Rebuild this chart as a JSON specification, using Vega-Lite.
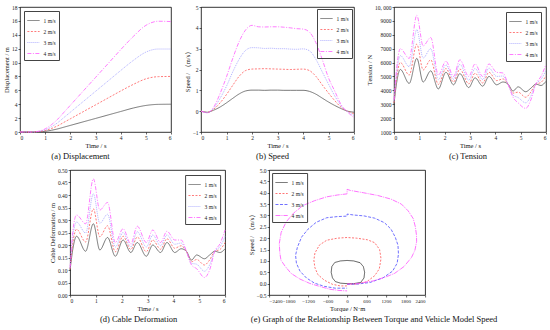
{
  "$schema": "https://vega.github.io/schema/vega-lite/v6.json",
  "padding": {"left": 3, "top": 4, "right": 3, "bottom": 2},
  "background": "white",
  "datasets": {
    "disp": [
      {"t": 0, "1 m/s": 0, "2 m/s": 0, "3 m/s": 0, "4 m/s": 0},
      {"t": 0.5, "1 m/s": 0, "2 m/s": 0, "3 m/s": 0, "4 m/s": 0},
      {"t": 0.75, "1 m/s": 0.03, "2 m/s": 0.06, "3 m/s": 0.09, "4 m/s": 0.12},
      {"t": 1, "1 m/s": 0.1, "2 m/s": 0.2, "3 m/s": 0.3, "4 m/s": 0.45},
      {"t": 1.25, "1 m/s": 0.25, "2 m/s": 0.5, "3 m/s": 0.75, "4 m/s": 1.05},
      {"t": 1.5, "1 m/s": 0.45, "2 m/s": 0.9, "3 m/s": 1.35, "4 m/s": 1.85},
      {"t": 1.75, "1 m/s": 0.7, "2 m/s": 1.4, "3 m/s": 2.1, "4 m/s": 2.85},
      {"t": 2, "1 m/s": 0.95, "2 m/s": 1.9, "3 m/s": 2.85, "4 m/s": 3.85},
      {"t": 2.5, "1 m/s": 1.45, "2 m/s": 2.9, "3 m/s": 4.35, "4 m/s": 5.85},
      {"t": 3, "1 m/s": 1.95, "2 m/s": 3.9, "3 m/s": 5.85, "4 m/s": 7.85},
      {"t": 3.5, "1 m/s": 2.45, "2 m/s": 4.9, "3 m/s": 7.35, "4 m/s": 9.85},
      {"t": 4, "1 m/s": 2.95, "2 m/s": 5.9, "3 m/s": 8.85, "4 m/s": 11.85},
      {"t": 4.5, "1 m/s": 3.45, "2 m/s": 6.85, "3 m/s": 10.3, "4 m/s": 13.75},
      {"t": 5, "1 m/s": 3.82, "2 m/s": 7.65, "3 m/s": 11.5, "4 m/s": 15.35},
      {"t": 5.5, "1 m/s": 3.98, "2 m/s": 7.97, "3 m/s": 11.95, "4 m/s": 15.95},
      {"t": 6, "1 m/s": 4.0, "2 m/s": 8.0, "3 m/s": 11.95, "4 m/s": 15.9}
    ],
    "speed": [
      {"t": 0, "1 m/s": 0, "2 m/s": 0, "3 m/s": 0, "4 m/s": 0},
      {"t": 0.25, "1 m/s": -0.05, "2 m/s": -0.06, "3 m/s": -0.07, "4 m/s": -0.08},
      {"t": 0.5, "1 m/s": 0.05, "2 m/s": 0.1, "3 m/s": 0.15, "4 m/s": 0.2},
      {"t": 0.75, "1 m/s": 0.2, "2 m/s": 0.4, "3 m/s": 0.62, "4 m/s": 0.85},
      {"t": 1, "1 m/s": 0.4, "2 m/s": 0.8, "3 m/s": 1.2, "4 m/s": 1.65},
      {"t": 1.25, "1 m/s": 0.62, "2 m/s": 1.25, "3 m/s": 1.9, "4 m/s": 2.55},
      {"t": 1.5, "1 m/s": 0.83, "2 m/s": 1.68, "3 m/s": 2.5, "4 m/s": 3.35},
      {"t": 1.75, "1 m/s": 0.97, "2 m/s": 1.95, "3 m/s": 2.92, "4 m/s": 3.9},
      {"t": 2, "1 m/s": 1.01, "2 m/s": 2.02, "3 m/s": 3.05, "4 m/s": 4.12},
      {"t": 2.25, "1 m/s": 1.01, "2 m/s": 2.03, "3 m/s": 3.04, "4 m/s": 4.05},
      {"t": 2.5, "1 m/s": 1.0, "2 m/s": 2.04, "3 m/s": 3.01, "4 m/s": 4.04},
      {"t": 2.75, "1 m/s": 1.01, "2 m/s": 2.03, "3 m/s": 3.02, "4 m/s": 4.05},
      {"t": 3, "1 m/s": 1.01, "2 m/s": 2.02, "3 m/s": 3.0, "4 m/s": 4.05},
      {"t": 3.25, "1 m/s": 1.0, "2 m/s": 2.01, "3 m/s": 3.0, "4 m/s": 4.03},
      {"t": 3.5, "1 m/s": 1.0, "2 m/s": 2.0, "3 m/s": 2.98, "4 m/s": 4.0},
      {"t": 3.75, "1 m/s": 1.0, "2 m/s": 2.01, "3 m/s": 2.97, "4 m/s": 3.96},
      {"t": 4, "1 m/s": 1.0, "2 m/s": 2.02, "3 m/s": 2.99, "4 m/s": 3.94},
      {"t": 4.25, "1 m/s": 0.95, "2 m/s": 1.95, "3 m/s": 2.9, "4 m/s": 3.8},
      {"t": 4.5, "1 m/s": 0.82, "2 m/s": 1.68, "3 m/s": 2.5, "4 m/s": 3.3},
      {"t": 4.75, "1 m/s": 0.63, "2 m/s": 1.27, "3 m/s": 1.9, "4 m/s": 2.5},
      {"t": 5, "1 m/s": 0.44, "2 m/s": 0.87, "3 m/s": 1.3, "4 m/s": 1.6},
      {"t": 5.25, "1 m/s": 0.27, "2 m/s": 0.5, "3 m/s": 0.72, "4 m/s": 0.95},
      {"t": 5.5, "1 m/s": 0.12, "2 m/s": 0.18, "3 m/s": 0.25, "4 m/s": 0.3},
      {"t": 5.75, "1 m/s": 0.0, "2 m/s": 0.0, "3 m/s": -0.02, "4 m/s": -0.05},
      {"t": 6, "1 m/s": -0.05, "2 m/s": -0.12, "3 m/s": -0.2, "4 m/s": -0.3}
    ],
    "tension": [
      {"t": 0, "1 m/s": 3000, "2 m/s": 3100, "3 m/s": 3200, "4 m/s": 3300},
      {"t": 0.1, "1 m/s": 4500, "2 m/s": 4830, "3 m/s": 5170, "4 m/s": 5500},
      {"t": 0.25, "1 m/s": 5500, "2 m/s": 6000, "3 m/s": 6500, "4 m/s": 7000},
      {"t": 0.6, "1 m/s": 4500, "2 m/s": 5100, "3 m/s": 5700, "4 m/s": 6300},
      {"t": 0.9, "1 m/s": 6300, "2 m/s": 7330, "3 m/s": 8370, "4 m/s": 9400},
      {"t": 1.15, "1 m/s": 4600, "2 m/s": 5470, "3 m/s": 6330, "4 m/s": 7200},
      {"t": 1.45, "1 m/s": 5400, "2 m/s": 6200, "3 m/s": 7000, "4 m/s": 7800},
      {"t": 1.75, "1 m/s": 4100, "2 m/s": 4430, "3 m/s": 4770, "4 m/s": 5100},
      {"t": 2.05, "1 m/s": 5300, "2 m/s": 5570, "3 m/s": 5830, "4 m/s": 6100},
      {"t": 2.35, "1 m/s": 4400, "2 m/s": 4600, "3 m/s": 4800, "4 m/s": 5000},
      {"t": 2.6, "1 m/s": 5200, "2 m/s": 5530, "3 m/s": 5870, "4 m/s": 6200},
      {"t": 2.95, "1 m/s": 4200, "2 m/s": 4470, "3 m/s": 4730, "4 m/s": 5000},
      {"t": 3.2, "1 m/s": 4900, "2 m/s": 5230, "3 m/s": 5570, "4 m/s": 5900},
      {"t": 3.5, "1 m/s": 4300, "2 m/s": 4530, "3 m/s": 4770, "4 m/s": 5000},
      {"t": 3.75, "1 m/s": 5000, "2 m/s": 5300, "3 m/s": 5600, "4 m/s": 5900},
      {"t": 4.05, "1 m/s": 4400, "2 m/s": 4700, "3 m/s": 5000, "4 m/s": 5300},
      {"t": 4.3, "1 m/s": 4600, "2 m/s": 4820, "3 m/s": 5030, "4 m/s": 5250},
      {"t": 4.5, "1 m/s": 4450, "2 m/s": 4450, "3 m/s": 4450, "4 m/s": 4450},
      {"t": 4.7, "1 m/s": 3950, "2 m/s": 3800, "3 m/s": 3650, "4 m/s": 3500},
      {"t": 4.9, "1 m/s": 4250, "2 m/s": 3870, "3 m/s": 3480, "4 m/s": 3100},
      {"t": 5.2, "1 m/s": 3900, "2 m/s": 3500, "3 m/s": 3100, "4 m/s": 2700},
      {"t": 5.4, "1 m/s": 4150, "2 m/s": 3870, "3 m/s": 3580, "4 m/s": 3300},
      {"t": 5.6, "1 m/s": 4450, "2 m/s": 4450, "3 m/s": 4450, "4 m/s": 4450},
      {"t": 5.8, "1 m/s": 4350, "2 m/s": 4570, "3 m/s": 4780, "4 m/s": 5000},
      {"t": 6, "1 m/s": 4650, "2 m/s": 5050, "3 m/s": 5450, "4 m/s": 5850}
    ],
    "deform": [
      {"t": 0, "1 m/s": 0.1, "2 m/s": 0.103, "3 m/s": 0.107, "4 m/s": 0.11},
      {"t": 0.1, "1 m/s": 0.18, "2 m/s": 0.203, "3 m/s": 0.227, "4 m/s": 0.25},
      {"t": 0.25, "1 m/s": 0.235, "2 m/s": 0.263, "3 m/s": 0.292, "4 m/s": 0.32},
      {"t": 0.6, "1 m/s": 0.175, "2 m/s": 0.212, "3 m/s": 0.248, "4 m/s": 0.285},
      {"t": 0.9, "1 m/s": 0.285, "2 m/s": 0.345, "3 m/s": 0.405, "4 m/s": 0.465},
      {"t": 1.15, "1 m/s": 0.18, "2 m/s": 0.233, "3 m/s": 0.287, "4 m/s": 0.34},
      {"t": 1.45, "1 m/s": 0.23, "2 m/s": 0.277, "3 m/s": 0.323, "4 m/s": 0.37},
      {"t": 1.75, "1 m/s": 0.155, "2 m/s": 0.173, "3 m/s": 0.192, "4 m/s": 0.21},
      {"t": 2.05, "1 m/s": 0.22, "2 m/s": 0.235, "3 m/s": 0.25, "4 m/s": 0.265},
      {"t": 2.35, "1 m/s": 0.17, "2 m/s": 0.182, "3 m/s": 0.193, "4 m/s": 0.205},
      {"t": 2.6, "1 m/s": 0.21, "2 m/s": 0.232, "3 m/s": 0.253, "4 m/s": 0.275},
      {"t": 2.95, "1 m/s": 0.155, "2 m/s": 0.173, "3 m/s": 0.192, "4 m/s": 0.21},
      {"t": 3.2, "1 m/s": 0.2, "2 m/s": 0.22, "3 m/s": 0.24, "4 m/s": 0.26},
      {"t": 3.5, "1 m/s": 0.17, "2 m/s": 0.183, "3 m/s": 0.197, "4 m/s": 0.21},
      {"t": 3.75, "1 m/s": 0.21, "2 m/s": 0.225, "3 m/s": 0.24, "4 m/s": 0.255},
      {"t": 4.05, "1 m/s": 0.17, "2 m/s": 0.187, "3 m/s": 0.203, "4 m/s": 0.22},
      {"t": 4.3, "1 m/s": 0.185, "2 m/s": 0.197, "3 m/s": 0.208, "4 m/s": 0.22},
      {"t": 4.5, "1 m/s": 0.175, "2 m/s": 0.175, "3 m/s": 0.175, "4 m/s": 0.175},
      {"t": 4.7, "1 m/s": 0.14, "2 m/s": 0.133, "3 m/s": 0.127, "4 m/s": 0.12},
      {"t": 4.9, "1 m/s": 0.16, "2 m/s": 0.142, "3 m/s": 0.123, "4 m/s": 0.105},
      {"t": 5.2, "1 m/s": 0.145, "2 m/s": 0.12, "3 m/s": 0.095, "4 m/s": 0.07},
      {"t": 5.4, "1 m/s": 0.16, "2 m/s": 0.14, "3 m/s": 0.12, "4 m/s": 0.1},
      {"t": 5.6, "1 m/s": 0.175, "2 m/s": 0.175, "3 m/s": 0.175, "4 m/s": 0.175},
      {"t": 5.8, "1 m/s": 0.17, "2 m/s": 0.182, "3 m/s": 0.193, "4 m/s": 0.205},
      {"t": 6, "1 m/s": 0.185, "2 m/s": 0.21, "3 m/s": 0.235, "4 m/s": 0.26}
    ],
    "loop": [
      {"s": "1 m/s", "i": 1, "x": 0, "y": 0},
      {"s": "1 m/s", "i": 2, "x": 200, "y": 0},
      {"s": "1 m/s", "i": 3, "x": 417, "y": 0.05},
      {"s": "1 m/s", "i": 4, "x": 520, "y": 0.25},
      {"s": "1 m/s", "i": 5, "x": 540, "y": 0.5},
      {"s": "1 m/s", "i": 6, "x": 500, "y": 0.75},
      {"s": "1 m/s", "i": 7, "x": 400, "y": 0.92},
      {"s": "1 m/s", "i": 8, "x": 200, "y": 1.0},
      {"s": "1 m/s", "i": 9, "x": 0, "y": 1.02},
      {"s": "1 m/s", "i": 10, "x": -200, "y": 1.0},
      {"s": "1 m/s", "i": 11, "x": -380, "y": 0.93},
      {"s": "1 m/s", "i": 12, "x": -470, "y": 0.75},
      {"s": "1 m/s", "i": 13, "x": -490, "y": 0.5},
      {"s": "1 m/s", "i": 14, "x": -450, "y": 0.25},
      {"s": "1 m/s", "i": 15, "x": -360, "y": 0.09},
      {"s": "1 m/s", "i": 16, "x": -200, "y": 0.02},
      {"s": "1 m/s", "i": 17, "x": 0, "y": 0},
      {"s": "2 m/s", "i": 1, "x": 0, "y": -0.02},
      {"s": "2 m/s", "i": 2, "x": 300, "y": -0.02},
      {"s": "2 m/s", "i": 3, "x": 600, "y": 0.08},
      {"s": "2 m/s", "i": 4, "x": 850, "y": 0.35},
      {"s": "2 m/s", "i": 5, "x": 990, "y": 0.65},
      {"s": "2 m/s", "i": 6, "x": 1043, "y": 1.1},
      {"s": "2 m/s", "i": 7, "x": 1000, "y": 1.5},
      {"s": "2 m/s", "i": 8, "x": 850, "y": 1.8},
      {"s": "2 m/s", "i": 9, "x": 626, "y": 1.93},
      {"s": "2 m/s", "i": 10, "x": 300, "y": 2.0},
      {"s": "2 m/s", "i": 11, "x": 0, "y": 2.03},
      {"s": "2 m/s", "i": 12, "x": -300, "y": 2.0},
      {"s": "2 m/s", "i": 13, "x": -626, "y": 1.91},
      {"s": "2 m/s", "i": 14, "x": -850, "y": 1.7},
      {"s": "2 m/s", "i": 15, "x": -990, "y": 1.35},
      {"s": "2 m/s", "i": 16, "x": -1023, "y": 1.03},
      {"s": "2 m/s", "i": 17, "x": -990, "y": 0.7},
      {"s": "2 m/s", "i": 18, "x": -900, "y": 0.4},
      {"s": "2 m/s", "i": 19, "x": -700, "y": 0.15},
      {"s": "2 m/s", "i": 20, "x": -450, "y": -0.03},
      {"s": "2 m/s", "i": 21, "x": -209, "y": -0.1},
      {"s": "2 m/s", "i": 22, "x": 0, "y": -0.1},
      {"s": "3 m/s", "i": 1, "x": 0, "y": -0.03},
      {"s": "3 m/s", "i": 2, "x": 313, "y": -0.02},
      {"s": "3 m/s", "i": 3, "x": 700, "y": 0.05},
      {"s": "3 m/s", "i": 4, "x": 1100, "y": 0.25},
      {"s": "3 m/s", "i": 5, "x": 1400, "y": 0.55},
      {"s": "3 m/s", "i": 6, "x": 1540, "y": 0.9},
      {"s": "3 m/s", "i": 7, "x": 1580, "y": 1.3},
      {"s": "3 m/s", "i": 8, "x": 1565, "y": 1.69},
      {"s": "3 m/s", "i": 9, "x": 1480, "y": 2.05},
      {"s": "3 m/s", "i": 10, "x": 1350, "y": 2.4},
      {"s": "3 m/s", "i": 11, "x": 1150, "y": 2.68},
      {"s": "3 m/s", "i": 12, "x": 850, "y": 2.88},
      {"s": "3 m/s", "i": 13, "x": 522, "y": 2.98},
      {"s": "3 m/s", "i": 14, "x": 200, "y": 3.02},
      {"s": "3 m/s", "i": 15, "x": 0, "y": 3.06},
      {"s": "3 m/s", "i": 16, "x": 0, "y": 2.97},
      {"s": "3 m/s", "i": 17, "x": -300, "y": 2.95},
      {"s": "3 m/s", "i": 18, "x": -626, "y": 2.9},
      {"s": "3 m/s", "i": 19, "x": -950, "y": 2.7},
      {"s": "3 m/s", "i": 20, "x": -1200, "y": 2.4},
      {"s": "3 m/s", "i": 21, "x": -1400, "y": 2.05},
      {"s": "3 m/s", "i": 22, "x": -1530, "y": 1.6},
      {"s": "3 m/s", "i": 23, "x": -1586, "y": 1.25},
      {"s": "3 m/s", "i": 24, "x": -1560, "y": 0.9},
      {"s": "3 m/s", "i": 25, "x": -1450, "y": 0.55},
      {"s": "3 m/s", "i": 26, "x": -1252, "y": 0.25},
      {"s": "3 m/s", "i": 27, "x": -1000, "y": 0.02},
      {"s": "3 m/s", "i": 28, "x": -700, "y": -0.12},
      {"s": "3 m/s", "i": 29, "x": -365, "y": -0.2},
      {"s": "3 m/s", "i": 30, "x": 0, "y": -0.2},
      {"s": "4 m/s", "i": 1, "x": 0, "y": -0.02},
      {"s": "4 m/s", "i": 2, "x": 313, "y": 0.0},
      {"s": "4 m/s", "i": 3, "x": 800, "y": 0.12},
      {"s": "4 m/s", "i": 4, "x": 1200, "y": 0.3},
      {"s": "4 m/s", "i": 5, "x": 1460, "y": 0.45},
      {"s": "4 m/s", "i": 6, "x": 1750, "y": 0.75},
      {"s": "4 m/s", "i": 7, "x": 1980, "y": 1.15},
      {"s": "4 m/s", "i": 8, "x": 2087, "y": 1.47},
      {"s": "4 m/s", "i": 9, "x": 2139, "y": 1.85},
      {"s": "4 m/s", "i": 10, "x": 2135, "y": 2.13},
      {"s": "4 m/s", "i": 11, "x": 2100, "y": 2.5},
      {"s": "4 m/s", "i": 12, "x": 2035, "y": 2.86},
      {"s": "4 m/s", "i": 13, "x": 1880, "y": 3.2},
      {"s": "4 m/s", "i": 14, "x": 1670, "y": 3.5},
      {"s": "4 m/s", "i": 15, "x": 1350, "y": 3.72},
      {"s": "4 m/s", "i": 16, "x": 940, "y": 3.88},
      {"s": "4 m/s", "i": 17, "x": 500, "y": 4.0},
      {"s": "4 m/s", "i": 18, "x": 104, "y": 4.1},
      {"s": "4 m/s", "i": 19, "x": 0, "y": 4.15},
      {"s": "4 m/s", "i": 20, "x": 0, "y": 3.95},
      {"s": "4 m/s", "i": 21, "x": -300, "y": 3.9},
      {"s": "4 m/s", "i": 22, "x": -626, "y": 3.82},
      {"s": "4 m/s", "i": 23, "x": -1000, "y": 3.65},
      {"s": "4 m/s", "i": 24, "x": -1357, "y": 3.44},
      {"s": "4 m/s", "i": 25, "x": -1650, "y": 3.1},
      {"s": "4 m/s", "i": 26, "x": -1878, "y": 2.71},
      {"s": "4 m/s", "i": 27, "x": -2030, "y": 2.25},
      {"s": "4 m/s", "i": 28, "x": -2087, "y": 1.76},
      {"s": "4 m/s", "i": 29, "x": -2070, "y": 1.35},
      {"s": "4 m/s", "i": 30, "x": -2035, "y": 1.03},
      {"s": "4 m/s", "i": 31, "x": -1900, "y": 0.75},
      {"s": "4 m/s", "i": 32, "x": -1722, "y": 0.45},
      {"s": "4 m/s", "i": 33, "x": -1450, "y": 0.2},
      {"s": "4 m/s", "i": 34, "x": -1148, "y": 0.01},
      {"s": "4 m/s", "i": 35, "x": -850, "y": -0.12},
      {"s": "4 m/s", "i": 36, "x": -522, "y": -0.25},
      {"s": "4 m/s", "i": 37, "x": -250, "y": -0.3},
      {"s": "4 m/s", "i": 38, "x": 0, "y": -0.32}
    ]
  },
  "resolve": {"scale": {"color": "independent", "strokeDash": "independent"}, "legend": {"color": "independent", "strokeDash": "independent"}},
  "center": true,
  "spacing": 6,
  "vconcat": [
    {
      "hconcat": [
        {
          "width": 151, "height": 125,
          "title": {"text": "(a)  Displacement", "dx": -15},
          "data": {"name": "disp"},
          "transform": [{"fold": ["1 m/s", "2 m/s", "3 m/s", "4 m/s"], "as": ["s", "y"]}],
          "mark": {"type": "line"},
          "encoding": {
            "x": {"field": "t", "type": "quantitative", "scale": {"domain": [0, 6], "nice": false}, "axis": {"title": "Time / s", "values": [0, 1, 2, 3, 4, 5, 6]}},
            "y": {"field": "y", "type": "quantitative", "scale": {"domain": [0, 18], "nice": false}, "axis": {"title": "Displacement / m", "values": [0, 2, 4, 6, 8, 10, 12, 14, 16, 18]}},
            "color": {"field": "s", "type": "nominal", "scale": {"domain": ["1 m/s", "2 m/s", "3 m/s", "4 m/s"], "range": ["#555555", "#ff5a5a", "#9d9dff", "#ff5cff"]}, "legend": {"title": null, "orient": "top-left", "offset": 4}},
            "strokeDash": {"field": "s", "type": "nominal", "scale": {"domain": ["1 m/s", "2 m/s", "3 m/s", "4 m/s"], "range": [[1, 0], [2, 1.5], [1, 1], [4, 1.5, 1, 1.5]]}, "legend": {"title": null, "orient": "top-left", "offset": 4}}
          }
        },
        {
          "width": 153, "height": 125,
          "title": {"text": "(b) Speed", "dx": -5},
          "data": {"name": "speed"},
          "transform": [{"fold": ["1 m/s", "2 m/s", "3 m/s", "4 m/s"], "as": ["s", "y"]}],
          "mark": {"type": "line"},
          "encoding": {
            "x": {"field": "t", "type": "quantitative", "scale": {"domain": [0, 6], "nice": false}, "axis": {"title": "Time / s", "values": [0, 1, 2, 3, 4, 5, 6]}},
            "y": {"field": "y", "type": "quantitative", "scale": {"domain": [-1, 5], "nice": false}, "axis": {"title": "Speed / （m/s）", "values": [-1, 0, 1, 2, 3, 4, 5]}},
            "color": {"field": "s", "type": "nominal", "scale": {"domain": ["1 m/s", "2 m/s", "3 m/s", "4 m/s"], "range": ["#555555", "#ff5a5a", "#9d9dff", "#ff5cff"]}, "legend": {"title": null, "orient": "top-right", "offset": 2}},
            "strokeDash": {"field": "s", "type": "nominal", "scale": {"domain": ["1 m/s", "2 m/s", "3 m/s", "4 m/s"], "range": [[1, 0], [2, 1.5], [1, 1], [4, 1.5, 1, 1.5]]}, "legend": {"title": null, "orient": "top-right", "offset": 2}}
          }
        },
        {
          "width": 152, "height": 125,
          "title": {"text": "(c) Tension", "dx": -2},
          "data": {"name": "tension"},
          "transform": [{"fold": ["1 m/s", "2 m/s", "3 m/s", "4 m/s"], "as": ["s", "y"]}],
          "mark": {"type": "line"},
          "encoding": {
            "x": {"field": "t", "type": "quantitative", "scale": {"domain": [0, 6], "nice": false}, "axis": {"title": "Time / s", "values": [0, 1, 2, 3, 4, 5, 6]}},
            "y": {"field": "y", "type": "quantitative", "scale": {"domain": [1000, 10000], "nice": false, "zero": false}, "axis": {"title": "Tension / N", "values": [1000, 2000, 3000, 4000, 5000, 6000, 7000, 8000, 9000, 10000], "labelExpr": "datum.value == 10000 ? '10, 000' : datum.value"}},
            "color": {"field": "s", "type": "nominal", "scale": {"domain": ["1 m/s", "2 m/s", "3 m/s", "4 m/s"], "range": ["#555555", "#ff5a5a", "#9d9dff", "#ff5cff"]}, "legend": {"title": null, "orient": "top-right", "offset": 5}},
            "strokeDash": {"field": "s", "type": "nominal", "scale": {"domain": ["1 m/s", "2 m/s", "3 m/s", "4 m/s"], "range": [[1, 0], [2, 1.5], [1, 1], [4, 1.5, 1, 1.5]]}, "legend": {"title": null, "orient": "top-right", "offset": 5}}
          }
        }
      ],
      "spacing": 10,
      "resolve": {"scale": {"color": "independent", "strokeDash": "independent"}, "legend": {"color": "independent", "strokeDash": "independent"}}
    },
    {
      "hconcat": [
        {
          "width": 155, "height": 125,
          "title": {"text": "(d) Cable Deformation", "dx": -9},
          "data": {"name": "deform"},
          "transform": [{"fold": ["1 m/s", "2 m/s", "3 m/s", "4 m/s"], "as": ["s", "y"]}],
          "mark": {"type": "line"},
          "encoding": {
            "x": {"field": "t", "type": "quantitative", "scale": {"domain": [0, 6], "nice": false}, "axis": {"title": "Time / s", "values": [0, 1, 2, 3, 4, 5, 6]}},
            "y": {"field": "y", "type": "quantitative", "scale": {"domain": [0, 0.5], "nice": false}, "axis": {"title": "Cable Deformation / m", "values": [0, 0.05, 0.1, 0.15, 0.2, 0.25, 0.3, 0.35, 0.4, 0.45, 0.5], "format": ".2f"}},
            "color": {"field": "s", "type": "nominal", "scale": {"domain": ["1 m/s", "2 m/s", "3 m/s", "4 m/s"], "range": ["#555555", "#ff5a5a", "#9d9dff", "#ff5cff"]}, "legend": {"title": null, "orient": "top-right", "offset": 5}},
            "strokeDash": {"field": "s", "type": "nominal", "scale": {"domain": ["1 m/s", "2 m/s", "3 m/s", "4 m/s"], "range": [[1, 0], [2, 1.5], [1, 1], [4, 1.5, 1, 1.5]]}, "legend": {"title": null, "orient": "top-right", "offset": 5}}
          }
        },
        {
          "width": 156, "height": 125,
          "title": {"text": "(e) Graph of the Relationship Between Torque and Vehicle Model Speed", "dx": 27},
          "data": {"name": "loop"},
          "mark": {"type": "line", "interpolate": "linear"},
          "encoding": {
            "x": {"field": "x", "type": "quantitative", "scale": {"domain": [-2400, 2400], "nice": false}, "axis": {"title": "Torque / N·m", "values": [-2400, -1800, -1200, -600, 0, 600, 1200, 1800, 2400], "format": "d", "labelOverlap": false, "labelFontSize": 5}},
            "y": {"field": "y", "type": "quantitative", "scale": {"domain": [-0.5, 5], "nice": false}, "axis": {"title": "Speed / （m/s）", "values": [-0.5, 0, 0.5, 1, 1.5, 2, 2.5, 3, 3.5, 4, 4.5, 5], "format": ".1f"}},
            "order": {"field": "i", "type": "quantitative"},
            "color": {"field": "s", "type": "nominal", "scale": {"domain": ["1 m/s", "2 m/s", "3 m/s", "4 m/s"], "range": ["#333333", "#ff5050", "#4d4dff", "#ff50ff"]}, "legend": {"title": null, "orient": "top-left", "offset": 3}},
            "strokeDash": {"field": "s", "type": "nominal", "scale": {"domain": ["1 m/s", "2 m/s", "3 m/s", "4 m/s"], "range": [[1, 0], [2, 1.5], [3, 1.5], [5, 1, 1, 1]]}, "legend": {"title": null, "orient": "top-left", "offset": 3}}
          }
        }
      ],
      "spacing": 20,
      "resolve": {"scale": {"color": "independent", "strokeDash": "independent"}, "legend": {"color": "independent", "strokeDash": "independent"}}
    }
  ],
  "config": {
    "font": "Liberation Serif",
    "view": {"stroke": "#000000", "strokeWidth": 0.8},
    "axis": {"labelFontSize": 5.5, "titleFontSize": 6.5, "titleFontWeight": "normal", "labelColor": "#222222", "titleColor": "#111111", "domain": false, "tickSize": 2, "tickColor": "#000000", "tickWidth": 0.6, "labelPadding": 1, "titlePadding": 2, "grid": false, "labelFont": "Liberation Serif", "titleFont": "Liberation Serif"},
    "legend": {"labelFontSize": 5.5, "labelColor": "#222222", "labelFont": "Liberation Serif", "symbolStrokeWidth": 0.9, "strokeColor": "#444444", "padding": 2.5, "rowPadding": -5, "symbolType": "stroke", "symbolSize": 150, "labelOffset": 3},
    "title": {"fontSize": 8.5, "fontWeight": "normal", "orient": "bottom", "offset": 3, "frame": "group", "anchor": "middle", "font": "Liberation Serif", "color": "#111111"},
    "line": {"strokeWidth": 0.8, "interpolate": "monotone"}
  }
}
